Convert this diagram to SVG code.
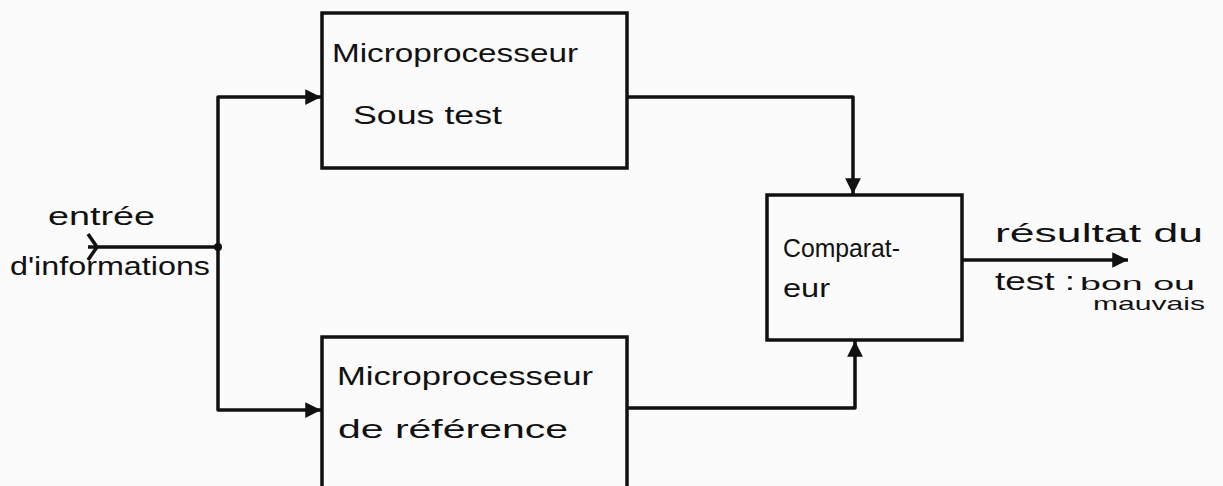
<svg xmlns="http://www.w3.org/2000/svg" width="1223" height="486" viewBox="0 0 1223 486">
<defs>
<style>
.box{fill:none;stroke:#111;stroke-width:3.5}
.wire{fill:none;stroke:#111;stroke-width:3.5;stroke-linejoin:round}
.t{font-family:"Liberation Sans","DejaVu Sans",sans-serif;font-size:25px;fill:#111}
.s{font-family:"Liberation Sans","DejaVu Sans",sans-serif;font-size:19px;fill:#111}
</style>
<marker id="ah" viewBox="0 0 10 10" refX="10" refY="5" markerWidth="4.5" markerHeight="4.5" orient="auto" markerUnits="strokeWidth">
<path d="M0,0 L10,5 L0,10 Z" fill="#111"/>
</marker>
</defs>
<rect width="1223" height="486" fill="#fbfbfb"/>
<g id="connectors">
<path class="wire" d="M88,247 H218"/>
<path class="wire" d="M88,234 L97,247 L88,260"/>
<circle cx="218" cy="247" r="4" fill="#111"/>
<path class="wire" d="M218,247 V97 H321" marker-end="url(#ah)"/>
<path class="wire" d="M218,247 V410 H321" marker-end="url(#ah)"/>
<path class="wire" d="M627,97 H853 V194" marker-end="url(#ah)"/>
<path class="wire" d="M627,408 H855 V341" marker-end="url(#ah)"/>
<path class="wire" d="M962,260 H1128" marker-end="url(#ah)"/>
</g>
<g id="input-label">
<text class="t" x="48" y="225" textLength="107" lengthAdjust="spacingAndGlyphs">entrée</text>
<text class="t" x="10" y="275" textLength="200" lengthAdjust="spacingAndGlyphs">d'informations</text>
</g>
<g id="mp-test">
<rect class="box" x="322" y="13" width="305" height="155"/>
<text class="t" x="332" y="62" textLength="246" lengthAdjust="spacingAndGlyphs">Microprocesseur</text>
<text class="t" x="353" y="124" textLength="149" lengthAdjust="spacingAndGlyphs">Sous test</text>
</g>
<g id="mp-ref">
<rect class="box" x="322" y="337" width="305" height="160"/>
<text class="t" x="337" y="385" textLength="256" lengthAdjust="spacingAndGlyphs">Microprocesseur</text>
<text class="t" x="338" y="438" textLength="230" lengthAdjust="spacingAndGlyphs">de référence</text>
</g>
<g id="comparateur">
<rect class="box" x="767" y="195" width="195" height="145"/>
<text class="t" x="783" y="257" textLength="117" lengthAdjust="spacingAndGlyphs">Comparat-</text>
<text class="t" x="783" y="297" textLength="47" lengthAdjust="spacingAndGlyphs">eur</text>
</g>
<g id="output-label">
<text class="t" x="995" y="242" textLength="208" lengthAdjust="spacingAndGlyphs">résultat du</text>
<text class="t" x="995" y="290" textLength="80" lengthAdjust="spacingAndGlyphs">test :</text>
<text class="s" x="1080" y="290" textLength="115" lengthAdjust="spacingAndGlyphs">bon ou</text>
<text class="s" x="1093" y="310" textLength="112" lengthAdjust="spacingAndGlyphs">mauvais</text>
</g>
</svg>
